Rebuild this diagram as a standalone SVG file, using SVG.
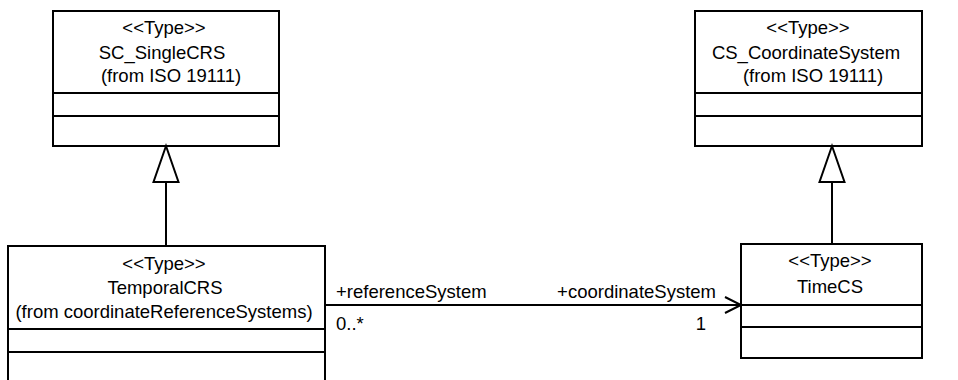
<svg xmlns="http://www.w3.org/2000/svg" width="958" height="380" viewBox="0 0 958 380">
<style>
.box{fill:#fff;stroke:#000;stroke-width:2}
.ln{stroke:#000;stroke-width:2;fill:none}
.tri{fill:#fff;stroke:#000;stroke-width:2}
text{font-family:"Liberation Sans",Arial,sans-serif;font-size:18.5px;fill:#000}
.c{text-anchor:middle}
.e{text-anchor:end}
</style>
<rect width="958" height="380" fill="#fff"/>
<g id="SC_SingleCRS">
<rect class="box" x="53" y="11" width="226" height="135"/>
<line class="ln" x1="53" y1="93" x2="279" y2="93"/>
<line class="ln" x1="53" y1="116" x2="279" y2="116"/>
<text class="c" x="164" y="34">&lt;&lt;Type&gt;&gt;</text>
<text class="c" x="162" y="59">SC_SingleCRS</text>
<text class="c" x="171" y="82">(from ISO 19111)</text>
</g>
<g id="CS_CoordinateSystem">
<rect class="box" x="695" y="11" width="227" height="135"/>
<line class="ln" x1="695" y1="93" x2="922" y2="93"/>
<line class="ln" x1="695" y1="116" x2="922" y2="116"/>
<text class="c" x="808" y="34">&lt;&lt;Type&gt;&gt;</text>
<text class="c" x="806" y="59">CS_CoordinateSystem</text>
<text class="c" x="813" y="82">(from ISO 19111)</text>
</g>
<g id="TemporalCRS">
<rect class="box" x="8" y="246" width="317" height="150"/>
<line class="ln" x1="8" y1="329" x2="325" y2="329"/>
<line class="ln" x1="8" y1="352" x2="325" y2="352"/>
<text class="c" x="164" y="270">&lt;&lt;Type&gt;&gt;</text>
<text class="c" x="165" y="294">TemporalCRS</text>
<text class="c" x="164" y="318">(from coordinateReferenceSystems)</text>
</g>
<g id="TimeCS">
<rect class="box" x="741" y="244" width="181" height="114"/>
<line class="ln" x1="741" y1="305" x2="922" y2="305"/>
<line class="ln" x1="741" y1="327" x2="922" y2="327"/>
<text class="c" x="830" y="267">&lt;&lt;Type&gt;&gt;</text>
<text class="c" x="830" y="293">TimeCS</text>
</g>
<g id="connectors">
<line class="ln" x1="166" y1="246" x2="166" y2="182"/>
<path class="tri" d="M166,146 L153.5,182 L178.5,182 Z"/>
<line class="ln" x1="832" y1="244" x2="832" y2="182"/>
<path class="tri" d="M832,146 L819.5,182 L844.5,182 Z"/>
<line class="ln" x1="325" y1="305" x2="741" y2="305"/>
<polyline class="ln" points="725,297 741,305 725,313"/>
<text x="336" y="298">+referenceSystem</text>
<text class="e" x="716" y="298">+coordinateSystem</text>
<text x="336" y="330">0..*</text>
<text class="e" x="706" y="330">1</text>
</g>
</svg>
